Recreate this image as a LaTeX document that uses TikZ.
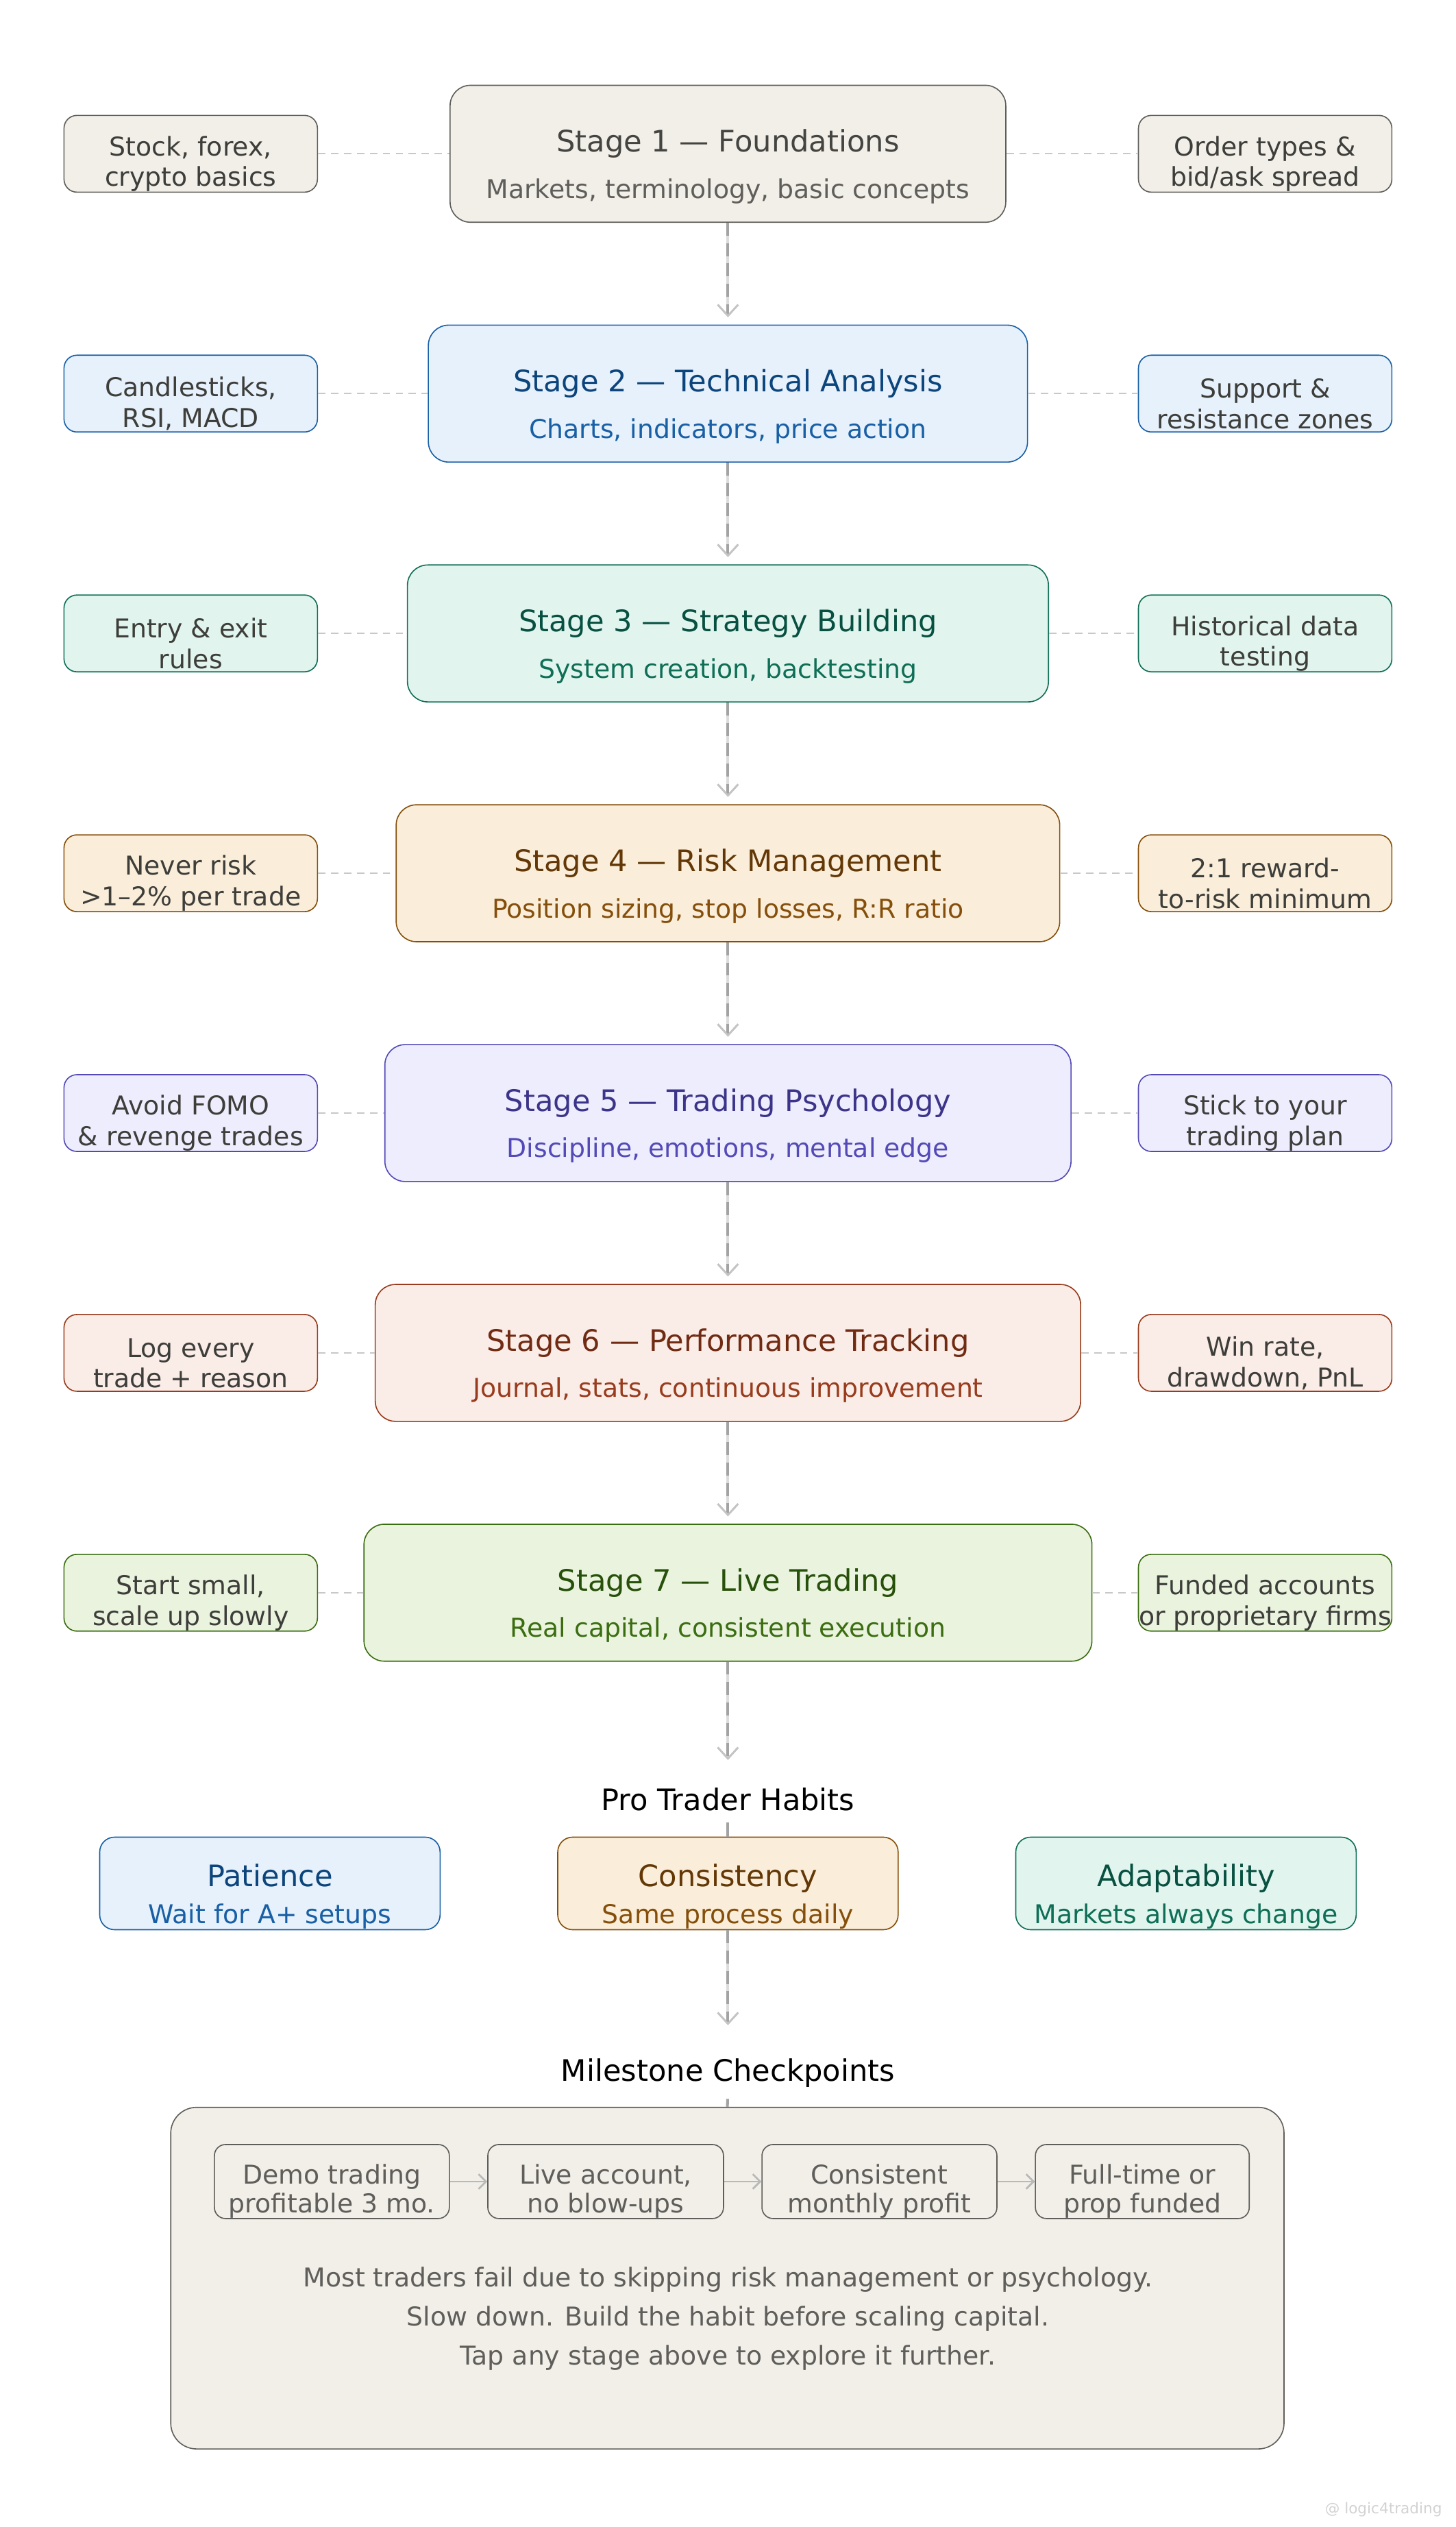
\documentclass[tikz,border=0pt]{standalone}
\usepackage{fontspec}
\setmainfont{DejaVu Sans}
\usetikzlibrary{positioning}
\usetikzlibrary{arrows.meta}
\usetikzlibrary{calc}

\definecolor{grayFill}{HTML}{F1EFE8}
\definecolor{grayLine}{HTML}{5F5E5A}
\definecolor{grayTitle}{HTML}{444441}
\definecolor{blueFill}{HTML}{E6F1FB}
\definecolor{blueLine}{HTML}{185FA5}
\definecolor{blueTitle}{HTML}{0C447C}
\definecolor{tealFill}{HTML}{E1F5EE}
\definecolor{tealLine}{HTML}{0F6E56}
\definecolor{tealTitle}{HTML}{085041}
\definecolor{amberFill}{HTML}{FAEEDA}
\definecolor{amberLine}{HTML}{854F0B}
\definecolor{amberTitle}{HTML}{633806}
\definecolor{purpleFill}{HTML}{EEEDFE}
\definecolor{purpleLine}{HTML}{534AB7}
\definecolor{purpleTitle}{HTML}{3C3489}
\definecolor{coralFill}{HTML}{FAECE7}
\definecolor{coralLine}{HTML}{993C1D}
\definecolor{coralTitle}{HTML}{712B13}
\definecolor{greenFill}{HTML}{EAF3DE}
\definecolor{greenLine}{HTML}{3B6D11}
\definecolor{greenTitle}{HTML}{27500A}
\definecolor{sideText}{HTML}{3D3D3A}
\definecolor{linkGray}{HTML}{C8C8C8}
\definecolor{flowGray}{HTML}{A3A3A3}
\definecolor{flowLight}{HTML}{DCDCDC}
\definecolor{tipGray}{HTML}{C4C4C4}

\begin{document}
\begin{tikzpicture}[
    x=1pt, y=-1pt,
    stage/.style={rectangle, rounded corners=11pt, draw=#1Line, fill=#1Fill, line width=0.6pt,
        align=center, minimum height=74pt, font=\fontsize{14}{17}\selectfont},
    side/.style={rectangle, rounded corners=7pt, draw=#1Line, fill=#1Fill, line width=0.6pt,
        align=center, minimum width=137pt, minimum height=41.5pt, inner xsep=0pt, inner ysep=0pt,
        text=sideText, font=\fontsize{14}{16.5}\selectfont},
    habit/.style={rectangle, rounded corners=8pt, draw=#1Line, fill=#1Fill, line width=0.6pt,
        align=center, minimum width=184pt, minimum height=50pt, inner ysep=0pt,
        font=\fontsize{14}{17}\selectfont},
    checkbox/.style={rectangle, rounded corners=6pt, draw=grayLine, fill=grayFill, line width=0.6pt,
        align=center, minimum width=127pt, minimum height=40pt, inner ysep=0pt, text=grayLine,
        font=\fontsize{14}{15.7}\selectfont},
    heading/.style={inner sep=0pt, text height=12pt, text depth=3.5pt, font=\fontsize{16}{19}\selectfont},
    link/.style={draw=linkGray, line width=0.8pt, dash pattern=on 4pt off 3pt},
    flow/.style={draw=flowGray, line width=1.5pt, dash pattern=on 7pt off 4pt,
        preaction={draw=flowLight, line width=1.5pt, solid},
        -{Straight Barb[length=6pt, width=11pt, line width=1pt, color=tipGray]}},
    flowline/.style={draw=flowGray, line width=1.5pt},
    cparrow/.style={draw=gray!55, line width=1pt, -{Straight Barb[length=4pt, width=8pt]}},
]
    \useasboundingbox (0,0) rectangle (787,1365.6);

    \coordinate (LX) at (103.1,0);
    \coordinate (RX) at (683.9,0);

    \node[stage=gray, minimum width=300.4pt] (S1) at (393.5,83.1)
        {{\fontsize{16}{19}\selectfont\color{grayTitle}\rule{0pt}{26pt}Stage 1 — Foundations}\\[8pt]\color{grayLine}Markets, terminology, basic concepts};
    \node[stage=blue, minimum width=323.9pt] (S2) [below=55pt of S1]
        {{\fontsize{16}{19}\selectfont\color{blueTitle}\rule{0pt}{26pt}Stage 2 — Technical Analysis}\\[8pt]\color{blueLine}Charts, indicators, price action};
    \node[stage=teal, minimum width=346.5pt] (S3) [below=55pt of S2]
        {{\fontsize{16}{19}\selectfont\color{tealTitle}\rule{0pt}{26pt}Stage 3 — Strategy Building}\\[8pt]\color{tealLine}System creation, backtesting};
    \node[stage=amber, minimum width=358.7pt] (S4) [below=55pt of S3]
        {{\fontsize{16}{19}\selectfont\color{amberTitle}\rule{0pt}{26pt}Stage 4 — Risk Management}\\[8pt]\color{amberLine}Position sizing, stop losses, R:R ratio};
    \node[stage=purple, minimum width=370.9pt] (S5) [below=55pt of S4]
        {{\fontsize{16}{19}\selectfont\color{purpleTitle}\rule{0pt}{26pt}Stage 5 — Trading Psychology}\\[8pt]\color{purpleLine}Discipline, emotions, mental edge};
    \node[stage=coral, minimum width=381.3pt] (S6) [below=55pt of S5]
        {{\fontsize{16}{19}\selectfont\color{coralTitle}\rule{0pt}{26pt}Stage 6 — Performance Tracking}\\[8pt]\color{coralLine}Journal, stats, continuous improvement};
    \node[stage=green, minimum width=393.5pt] (S7) [below=55pt of S6]
        {{\fontsize{16}{19}\selectfont\color{greenTitle}\rule{0pt}{26pt}Stage 7 — Live Trading}\\[8pt]\color{greenLine}Real capital, consistent execution};

    \node[side=gray] (L1) at (LX |- S1) {\rule{0pt}{21.5pt}Stock, forex,\\crypto basics};
    \node[side=gray] (R1) at (RX |- S1) {\rule{0pt}{21.5pt}Order types \&\\bid/ask spread};
    \node[side=blue] (L2) at (LX |- S2) {\rule{0pt}{21.5pt}Candlesticks,\\RSI, MACD};
    \node[side=blue] (R2) at (RX |- S2) {\rule{0pt}{21.5pt}Support \&\\resistance zones};
    \node[side=teal] (L3) at (LX |- S3) {\rule{0pt}{21.5pt}Entry \& exit\\rules};
    \node[side=teal] (R3) at (RX |- S3) {\rule{0pt}{21.5pt}Historical data\\testing};
    \node[side=amber] (L4) at (LX |- S4) {\rule{0pt}{21.5pt}Never risk\\>1–2\% per trade};
    \node[side=amber] (R4) at (RX |- S4) {\rule{0pt}{21.5pt}2:1 reward-\\to-risk minimum};
    \node[side=purple] (L5) at (LX |- S5) {\rule{0pt}{21.5pt}Avoid FOMO\\\& revenge trades};
    \node[side=purple] (R5) at (RX |- S5) {\rule{0pt}{21.5pt}Stick to your\\trading plan};
    \node[side=coral] (L6) at (LX |- S6) {\rule{0pt}{21.5pt}Log every\\trade + reason};
    \node[side=coral] (R6) at (RX |- S6) {\rule{0pt}{21.5pt}Win rate,\\drawdown, PnL};
    \node[side=green] (L7) at (LX |- S7) {\rule{0pt}{21.5pt}Start small,\\scale up slowly};
    \node[side=green] (R7) at (RX |- S7) {\rule{0pt}{21.5pt}Funded accounts\\or proprietary firms};

    \draw[link] (L1.east) -- (S1.west);
    \draw[link] (S1.east) -- (R1.west);
    \draw[link] (L2.east) -- (S2.west);
    \draw[link] (S2.east) -- (R2.west);
    \draw[link] (L3.east) -- (S3.west);
    \draw[link] (S3.east) -- (R3.west);
    \draw[link] (L4.east) -- (S4.west);
    \draw[link] (S4.east) -- (R4.west);
    \draw[link] (L5.east) -- (S5.west);
    \draw[link] (S5.east) -- (R5.west);
    \draw[link] (L6.east) -- (S6.west);
    \draw[link] (S6.east) -- (R6.west);
    \draw[link] (L7.east) -- (S7.west);
    \draw[link] (S7.east) -- (R7.west);

    \draw[flow, shorten >=4pt] (S1.south) -- (S2.north);
    \draw[flow, shorten >=4pt] (S2.south) -- (S3.north);
    \draw[flow, shorten >=4pt] (S3.south) -- (S4.north);
    \draw[flow, shorten >=4pt] (S4.south) -- (S5.north);
    \draw[flow, shorten >=4pt] (S5.south) -- (S6.north);
    \draw[flow, shorten >=4pt] (S6.south) -- (S7.north);

    \node[heading] (HT) at (393.5,974) {Pro Trader Habits};
    \node[habit=amber] (H2) at (393.5,1017.8)
        {{\fontsize{16}{19}\selectfont\color{amberTitle}\rule{0pt}{26pt}Consistency}\\[3pt]\color{amberLine}Same process daily};
    \node[habit=blue] (H1) [left=63pt of H2]
        {{\fontsize{16}{19}\selectfont\color{blueTitle}\rule{0pt}{26pt}Patience}\\[3pt]\color{blueLine}Wait for A+ setups};
    \node[habit=teal] (H3) [right=63pt of H2]
        {{\fontsize{16}{19}\selectfont\color{tealTitle}\rule{0pt}{26pt}Adaptability}\\[3pt]\color{tealLine}Markets always change};

    \draw[flow, shorten >=15pt] (S7.south) -- (HT.north);
    \draw[flowline, shorten <=3pt] (HT.south) -- (H2.north);

    \node[heading] (MT) at (393.5,1120.3) {Milestone Checkpoints};
    \node[rectangle, rounded corners=14pt, draw=grayLine, fill=grayFill, line width=0.6pt,
        minimum width=601.8pt, minimum height=184.6pt] (MB) at (393.2,1231.1) {};

    \draw[flow, shorten >=18pt] (H2.south) -- (MT.north);
    \draw[flowline, shorten <=6pt] (MT.south) -- (MB.north);

    \node[checkbox] (C1) at (179.4,1178.9) {\rule{0pt}{21pt}Demo trading\\profitable 3 mo.};
    \node[checkbox, minimum width=127.4pt] (C2) [right=20.2pt of C1] {\rule{0pt}{21pt}Live account,\\no blow-ups};
    \node[checkbox] (C3) [right=20.2pt of C2] {\rule{0pt}{21pt}Consistent\\monthly profit};
    \node[checkbox, minimum width=115.6pt] (C4) [right=20.2pt of C3] {\rule{0pt}{21pt}Full-time or\\prop funded};

    \draw[cparrow] (C1.east) -- (C2.west);
    \draw[cparrow] (C2.east) -- (C3.west);
    \draw[cparrow] (C3.east) -- (C4.west);

    \node[align=center, text=grayLine, font=\fontsize{14}{21}\selectfont] (MN) at (393.5,1253)
        {Most traders fail due to skipping risk management or psychology.\\
         Slow down. Build the habit before scaling capital.\\
         Tap any stage above to explore it further.};

    \node[anchor=east, text=gray!35, font=\fontsize{8}{9}\selectfont] (WM) at (783,1356) {@ logic4trading};
\end{tikzpicture}
\end{document}
